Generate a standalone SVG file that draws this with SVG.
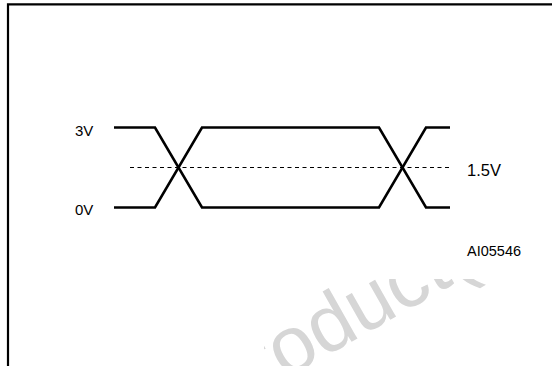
<svg xmlns="http://www.w3.org/2000/svg" width="552" height="366" viewBox="0 0 552 366">
  <defs>
    <clipPath id="wmclip">
      <rect x="264" y="279" width="288" height="87"/>
    </clipPath>
    <style>
      .frame { stroke: #000; stroke-width: 2.2; fill: none; }
      .wave { stroke: #000; stroke-width: 2.6; fill: none; stroke-linejoin: miter; }
      .dash { stroke: #000; stroke-width: 1; stroke-dasharray: 4 3.5; fill: none; }
      .lbl { font-family: "Liberation Sans", Arial, sans-serif; font-size: 15px; fill: #000; }
      .wm { font-family: "Liberation Sans", Arial, sans-serif; font-size: 80px; fill: #d6d6d6; }
    </style>
  </defs>
  <rect x="0" y="0" width="552" height="366" fill="#fff"/>
  <g id="watermark" clip-path="url(#wmclip)">
    <text class="wm" transform="translate(215,419) rotate(-29.5)">Product(s)</text>
  </g>
  <g id="frame">
    <path class="frame" d="M8,366 V4.3 H552"/>
  </g>
  <g id="connectors">
    <path id="threshold" class="dash" d="M130,167.5 H450"/>
  </g>
  <g id="signal">
    <path class="wave" d="M114,127.5 H155 L202,207.5 H379 L426,127.5 H450"/>
    <path class="wave" d="M114,207.5 H155 L202,127.5 H379 L426,207.5 H450"/>
  </g>
  <g id="label-3v"><text class="lbl" x="75" y="136">3V</text></g>
  <g id="label-0v"><text class="lbl" x="75" y="215">0V</text></g>
  <g id="label-15v"><text class="lbl" x="467" y="176" style="font-size:16.5px">1.5V</text></g>
  <g id="label-id"><text class="lbl" x="467" y="256" style="font-size:14.5px">AI05546</text></g>
</svg>
